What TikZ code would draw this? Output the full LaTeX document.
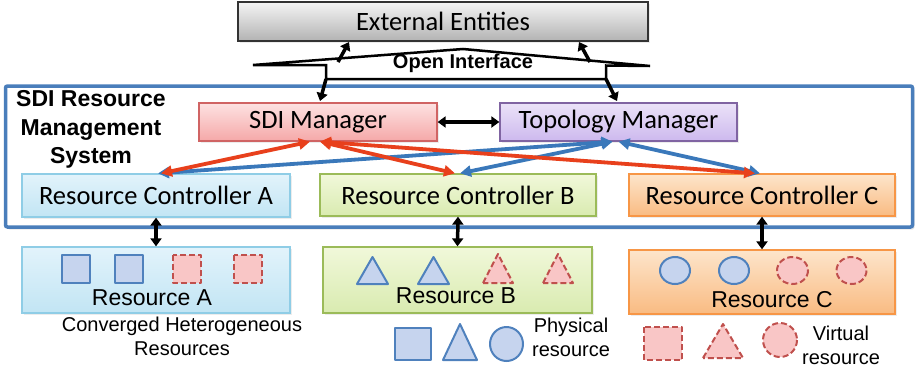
\documentclass[tikz,border=0pt]{standalone}
\usepackage{fontspec}
\setmainfont{Carlito}
\newfontfamily\arialfont{Liberation Sans}
\usetikzlibrary{arrows.meta,shadows}
\definecolor{redarr}{HTML}{E8401C}
\definecolor{bluearr}{HTML}{3A78BA}
\definecolor{physb}{HTML}{4F81BD}
\definecolor{physf}{HTML}{C6D4EE}
\definecolor{virtb}{HTML}{C0504D}
\definecolor{virtf}{HTML}{F9C6C6}
\definecolor{sysb}{HTML}{4A7EBB}
\definecolor{cAt}{HTML}{E2F3FB}\definecolor{cAb}{HTML}{C2E5F4}\definecolor{cAd}{HTML}{8FCDE6}
\definecolor{cBt}{HTML}{F1F8DA}\definecolor{cBb}{HTML}{D9EBB0}\definecolor{cBd}{HTML}{9BBB59}
\definecolor{cCt}{HTML}{FDE5CB}\definecolor{cCb}{HTML}{F9BB82}\definecolor{cCd}{HTML}{F79646}
\definecolor{sMt}{HTML}{FDE2E2}\definecolor{sMb}{HTML}{F5A8A8}\definecolor{sMd}{HTML}{D06464}
\definecolor{tMt}{HTML}{EBE2F8}\definecolor{tMb}{HTML}{CDB9EE}\definecolor{tMd}{HTML}{8064A2}
\tikzset{
  base/.style={draw, line width=1.3pt, font=\fontsize{26.5}{30}\selectfont, inner sep=0pt,
    drop shadow={opacity=0.15, shadow xshift=1.5pt, shadow yshift=-2pt}},
  ext/.style={base, draw=black!80, top color=black!4, bottom color=black!30},
  sdibox/.style={base, draw=sMd, top color=sMt, bottom color=sMb},
  topobox/.style={base, draw=tMd, top color=tMt, bottom color=tMb},
  cbox/.style={base, draw=cAd, top color=cAt, bottom color=cAb},
  gbox/.style={base, draw=cBd, top color=cBt, bottom color=cBb},
  obox/.style={base, draw=cCd, top color=cCt, bottom color=cCb},
  resfont/.style={font=\arialfont\fontsize{23}{26}\selectfont},
  blk/.style={line width=3.5pt, {Triangle[length=8pt,width=11pt]}-{Triangle[length=8pt,width=11pt]}},
  blkone/.style={line width=3.5pt, -{Triangle[length=8pt,width=11pt]}},
  rarr/.style={draw=redarr, line width=3.8pt, {Triangle[length=11pt,width=11pt]}-{Triangle[length=11pt,width=11pt]}},
  barr/.style={draw=bluearr, line width=3.8pt, {Triangle[length=11pt,width=11pt]}-{Triangle[length=11pt,width=11pt]}},
  phys/.style={draw=physb, fill=physf, line width=2pt, line join=round},
  virt/.style={draw=virtb, fill=virtf, line width=2pt, dash pattern=on 6pt off 3pt, line join=round},
  lgd/.style={font=\arialfont\fontsize{20}{24}\selectfont, align=center, inner sep=0pt},
}
\begin{document}
\begin{tikzpicture}[x=1pt,y=-1pt]
\useasboundingbox (0,0) rectangle (918,370);

% big system box
\node[draw=sysb, line width=3.5pt, rounded corners=2pt, minimum width=907pt, minimum height=141pt,
  fill=white, drop shadow={opacity=0.2, shadow xshift=2pt, shadow yshift=-2.5pt}] (sys) at (459,156.5) {};
\node[font=\arialfont\bfseries\fontsize{23}{28.5}\selectfont, align=center, inner sep=0pt] (syslbl) at (91,129.5)
  {SDI Resource\\Management\\System};

% external entities
\node[ext, minimum width=410pt, minimum height=39pt] (ext) at (443,21.5) {External Entities};

% open interface shape
\coordinate (oiL) at (253,65);
\coordinate (oiA) at (463,49);
\coordinate (oiR) at (650,66);
\coordinate (oiBL) at (326,79);
\coordinate (oiBR) at (606,79);
\draw[line width=2.5pt, fill=white, line join=miter]
  (oiL) -- (oiA) -- (oiR) -- (606,65.5) -- (oiBR) -- (oiBL) -- (326,65) -- cycle;
\node[font=\arialfont\bfseries\fontsize{20}{24}\selectfont, inner sep=0pt] (oi) at (463,63) {Open Interface};

% managers
\node[sdibox, minimum width=238pt, minimum height=38pt] (sdi) at (318,122) {SDI Manager};
\node[topobox, minimum width=237pt, minimum height=38pt] (topo) at (618.5,122) {Topology Manager};

% controllers
\node[cbox, minimum width=268pt, minimum height=43pt] (rca) at (156,195.5) {Resource Controller A};
\node[gbox, minimum width=276pt, minimum height=42pt] (rcb) at (458,195) {Resource Controller B};
\node[obox, minimum width=266pt, minimum height=42pt] (rcc) at (762,195) {Resource Controller C};

% resources
\node[cbox, minimum width=268pt, minimum height=66pt] (resa) at (156,280) {};
\node[gbox, minimum width=269pt, minimum height=66pt] (resb) at (457.5,280) {};
\node[obox, minimum width=266pt, minimum height=64pt] (resc) at (762,282) {};
\node[resfont, inner sep=0pt] (resatxt) at (152,298) {Resource A};
\node[resfont, inner sep=0pt] (resbtxt) at (456,296) {Resource B};
\node[resfont, inner sep=0pt] (resctxt) at (772,300) {Resource C};

% shapes in Resource A
\draw[phys] (62,255) rectangle (90,283);
\draw[phys] (115,255) rectangle (143,283);
\draw[virt] (173,255) rectangle (201,283);
\draw[virt] (234,255) rectangle (262,283);
% shapes in Resource B
\draw[phys] (357,284) -- (372.5,257) -- (388,284) -- cycle;
\draw[phys] (418,284) -- (433.5,257) -- (449,284) -- cycle;
\draw[virt] (483,283) -- (498,254) -- (513,283) -- cycle;
\draw[virt] (543,283) -- (558,254) -- (573,283) -- cycle;
% shapes in Resource C
\draw[phys] (675,270.5) ellipse [x radius=15, y radius=13.5];
\draw[phys] (734,270.5) ellipse [x radius=15, y radius=13.5];
\draw[virt] (792.5,270.5) ellipse [x radius=15.5, y radius=13.5];
\draw[virt] (851.5,270.5) ellipse [x radius=15, y radius=13.5];

% legend
\node[lgd] (conv) at (182,336) {Converged Heterogeneous\\Resources};
\draw[phys] (395,328) rectangle (431,360);
\draw[phys] (443,360) -- (460,324) -- (477,360) -- cycle;
\draw[phys] (506.5,344) ellipse [x radius=16.5, y radius=17];
\node[lgd] (physlbl) at (571,337) {Physical\\resource};
\draw[virt] (644,327) rectangle (682,360);
\draw[virt] (703,358) -- (723,324) -- (743,358) -- cycle;
\draw[virt] (780,340) ellipse [x radius=17, y radius=17];
\node[lgd] (virtlbl) at (841,345) {Virtual\\resource};

% black arrows
\coordinate (eL) at (349,42);
\coordinate (eR) at (579,42);
\coordinate (oL) at (338,62);
\coordinate (oR) at (590,62);
\draw[blkone] (oL) -- (eL);
\draw[blkone] (oR) -- (eR);
\coordinate (dL) at (320,101);
\coordinate (dR) at (617,101);
\draw[blkone] (oiBL) -- (dL);
\draw[blkone] (oiBR) -- (dR);
\draw[blk] (sdi.east) -- (topo.west);
\draw[blk] (rca.south) -- (resa.north);
\draw[blk] (rcb.south) -- (resb.north);
\draw[blk] (rcc.south) -- (resc.north);

% red and blue arrows
\draw[barr] ([xshift=-6pt]topo.south) -- ([xshift=2pt]rca.north);
\draw[barr] ([xshift=-6pt]topo.south) -- ([xshift=2pt]rcb.north);
\draw[barr] ([xshift=0pt]topo.south) -- ([xshift=-2pt]rcc.north);
\draw[rarr] ([xshift=-8pt]sdi.south) -- ([xshift=5pt]rca.north);
\draw[rarr] ([xshift=2pt]sdi.south) -- ([xshift=-3pt]rcb.north);
\draw[rarr] ([xshift=2pt]sdi.south) -- ([xshift=-7pt]rcc.north);
\end{tikzpicture}
\end{document}
